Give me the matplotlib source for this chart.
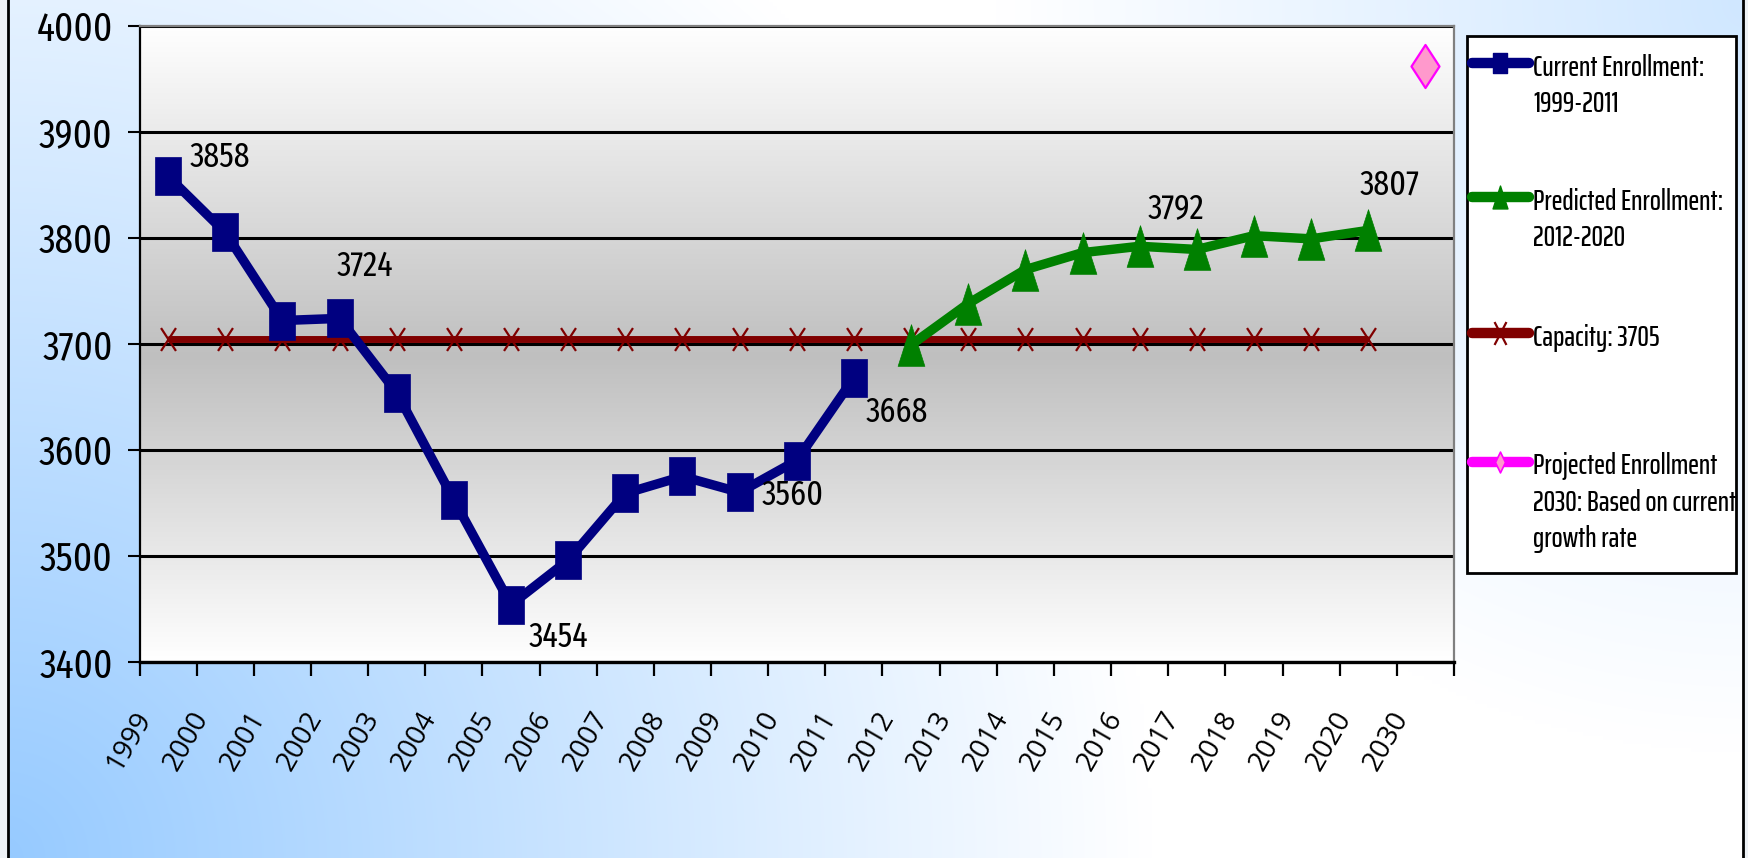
import numpy as np
import matplotlib
matplotlib.use("Agg")
import matplotlib.pyplot as plt
from matplotlib.path import Path
from matplotlib.lines import Line2D
from matplotlib.patches import Rectangle
from matplotlib.transforms import ScaledTranslation
from matplotlib.font_manager import FontProperties

# ---------------- data ----------------
years = ["1999", "2000", "2001", "2002", "2003", "2004", "2005", "2006", "2007",
         "2008", "2009", "2010", "2011", "2012", "2013", "2014", "2015", "2016",
         "2017", "2018", "2019", "2020", "2030"]

current_years = years[0:13]
current_values = [3858, 3805, 3722, 3724, 3654, 3553, 3454, 3496, 3559, 3575, 3560, 3590, 3668]

predicted_years = years[13:22]
predicted_values = [3699, 3738, 3770, 3786, 3792, 3789, 3802, 3799, 3807]

capacity_years = years[0:22]
capacity_value = 3705

projected_years = ["2030"]
projected_values = [3962]

legend_labels = ["Current Enrollment:\n1999-2011",
                 "Predicted Enrollment:\n2012-2020",
                 "Capacity: 3705",
                 "Projected Enrollment\n2030: Based on current\ngrowth rate"]

y_ticks = [3400, 3500, 3600, 3700, 3800, 3900, 4000]

# data labels: (series, year)
current_labeled = ["1999", "2002", "2005", "2009", "2011"]
predicted_labeled = ["2016", "2020"]

# ---------------- styling ----------------
W, H, DPI = 1749, 858, 100
NUM_FONT = ["Fira Sans Extra Condensed", "DejaVu Sans"]
LEG_FONT = ["Saira ExtraCondensed", "Fira Sans Extra Condensed", "DejaVu Sans"]
XT_FONT = ["Open Sans", "DejaVu Sans"]
NAVY, GREEN, DARKRED = "#000080", "#008000", "#800000"
PINK, MAGENTA = "#FF99CC", "#FF00FF"

def rect_marker(a):
    return Path([(-a, -1), (a, -1), (a, 1), (-a, 1), (-a, -1)],
                [Path.MOVETO, Path.LINETO, Path.LINETO, Path.LINETO, Path.CLOSEPOLY])

def tri_marker(a):
    return Path([(-a, -1), (a, -1), (0, 1), (-a, -1)],
                [Path.MOVETO, Path.LINETO, Path.LINETO, Path.CLOSEPOLY])

def cross_marker(a):
    return Path([(-a, -1), (a, 1), (-a, 1), (a, -1)],
                [Path.MOVETO, Path.LINETO, Path.MOVETO, Path.LINETO])

def diamond_marker(a):
    return Path([(0, -1), (a, 0), (0, 1), (-a, 0), (0, -1)],
                [Path.MOVETO, Path.LINETO, Path.LINETO, Path.LINETO, Path.CLOSEPOLY])

SQ = rect_marker(0.667)
TRI = tri_marker(0.643)
CROSS = cross_marker(0.652)
DIA = diamond_marker(0.651)

fig = plt.figure(figsize=(W / DPI, H / DPI), dpi=DPI)

# figure background gradient
bg = fig.add_axes([0, 0, 1, 1], zorder=-10)
gy, gx = np.mgrid[0:H:4, 0:W:4].astype(float)
d1 = np.hypot(gx - 0, gy - H)
d2 = np.hypot(gx - W, gy - 0)
w = np.clip(1 - d1 / 1150.0, 0, 1) * 1.0 + np.clip(1 - d2 / 750.0, 0, 1) * 0.45
w = np.clip(w, 0, 1)
blue = np.array([150, 202, 255]) / 255.0
white = np.array([1.0, 1.0, 1.0])
img = white[None, None, :] * (1 - w[..., None]) + blue[None, None, :] * w[..., None]
bg.imshow(img, extent=(0, 1, 0, 1), aspect="auto", interpolation="bilinear")
bg.set_xlim(0, 1)
bg.set_ylim(0, 1)
bg.axis("off")
bg.add_patch(Rectangle((0, 0), 7 / W, 1, color="#EEF2F6", transform=bg.transAxes, zorder=2))
bg.add_patch(Rectangle((1744 / W, 0), 5 / W, 1, color="#EEF2F6", transform=bg.transAxes, zorder=2))
bg.add_line(Line2D([8 / W, 8 / W], [0, 1], color="black", lw=2.0, transform=bg.transAxes, zorder=3))
bg.add_line(Line2D([1743 / W, 1743 / W], [0, 1], color="black", lw=2.0, transform=bg.transAxes, zorder=3))

# main axes
ax_l, ax_r, ax_t, ax_b = 139.5, 1454.0, 25.7, 662.0
ax = fig.add_axes([ax_l / W, 1 - ax_b / H, (ax_r - ax_l) / W, (ax_b - ax_t) / H])
ax.patch.set_alpha(0)

# plot-area vertical gradient (white -> gray -> white)
t = np.linspace(0, 1, 300)
c = 0.48
g = np.where(t < c, 1 - (t / c) * (1 - 0.75), 0.75 + ((t - c) / (1 - c)) * (1 - 0.75))
pimg = np.repeat(g[:, None], 4, axis=1)
ax.imshow(np.dstack([pimg] * 3), extent=(0, 1, 0, 1), transform=ax.transAxes,
          aspect="auto", origin="lower", interpolation="bilinear", zorder=-2)

xpos = {y: i for i, y in enumerate(years)}

# capacity
cap_x = [xpos[y] for y in capacity_years]
ax.plot(cap_x, [capacity_value] * len(cap_x), color=DARKRED, lw=5, marker=CROSS,
        ms=16.5, mew=1.6, mec=DARKRED, mfc="none", zorder=3, solid_capstyle="butt")

# current enrollment
cur_x = [xpos[y] for y in current_years]
ax.plot(cur_x, current_values, color=NAVY, lw=6.8, marker=SQ, ms=28, mfc=NAVY,
        mec=NAVY, mew=0.5, zorder=4, solid_joinstyle="round")

# predicted enrollment
pre_x = [xpos[y] for y in predicted_years]
ax.plot(pre_x, predicted_values, color=GREEN, lw=6.8, marker=TRI, ms=30, mfc=GREEN,
        mec=GREEN, mew=0.5, zorder=4, solid_joinstyle="round")

# projected 2030
pro_x = [xpos[y] for y in projected_years]
ax.plot(pro_x, projected_values, linestyle="none", marker=DIA, ms=31, mfc=PINK,
        mec=MAGENTA, mew=1.6, zorder=5)

# data labels
lbl_off = {"1999": (37, 13.5), "2002": (18.4, 37.7), "2005": (34.2, -23.3),
           "2009": (38.4, -1.9), "2011": (31, -24.4), "2016": (26.2, 27.4),
           "2020": (15.5, 32.7)}
for yr in current_labeled:
    v = current_values[current_years.index(yr)]
    ax.annotate(str(v), (xpos[yr], v), xytext=lbl_off[yr], textcoords="offset points",
                ha="center", va="center", fontsize=25, family=NUM_FONT, color="black", zorder=6)
for yr in predicted_labeled:
    v = predicted_values[predicted_years.index(yr)]
    ax.annotate(str(v), (xpos[yr], v), xytext=lbl_off[yr], textcoords="offset points",
                ha="center", va="center", fontsize=25, family=NUM_FONT, color="black", zorder=6)

# axes limits, ticks, grid
ax.set_xlim(-0.5, len(years) - 0.5)
ax.set_ylim(y_ticks[0], y_ticks[-1])
ax.set_yticks(y_ticks)
ax.set_yticklabels([str(v) for v in y_ticks], family=NUM_FONT, fontsize=29)
ax.tick_params(axis="y", direction="out", length=8.3, width=1.5, pad=11, colors="black")

ax.set_xticks(range(len(years)))
ax.set_xticklabels(years, rotation=60, ha="right", va="top", family=XT_FONT, fontsize=20)
ax.set_xticks(np.arange(-0.5, len(years), 1.0), minor=True)
ax.tick_params(axis="x", which="major", length=0, pad=32)
ax.tick_params(axis="x", which="minor", direction="out", length=10, width=1.6, colors="black")
shift = ScaledTranslation(-11 / DPI, 0, fig.dpi_scale_trans)
for lab in ax.get_xticklabels():
    lab.set_transform(lab.get_transform() + shift)

ax.set_axisbelow(True)
ax.yaxis.grid(True, color="black", lw=2.2)
ax.xaxis.grid(False)

for side in ("left", "bottom"):
    ax.spines[side].set_color("black")
ax.spines["left"].set_linewidth(1.6)
ax.spines["bottom"].set_linewidth(2.4)
for side in ("top", "right"):
    ax.spines[side].set_color("#808080")
    ax.spines[side].set_linewidth(1.6)

# legend (manual, Excel-like layout)
def fx(px):
    return px / W

def fy(py):
    return 1 - py / H

fig.add_artist(Rectangle((fx(1466.7), fy(573)), (1735.7 - 1466.7) / W, (573 - 36.4) / H,
                         transform=fig.transFigure, facecolor="white", edgecolor="black",
                         lw=2.0, zorder=5))
leg_y = [63.1, 197.1, 333.0, 461.9]
leg_style = [
    dict(color=NAVY, marker=SQ, ms=14.4, mfc=NAVY, mec=NAVY),
    dict(color=GREEN, marker=tri_marker(0.65), ms=16.5, mfc=GREEN, mec=GREEN),
    dict(color=DARKRED, marker=cross_marker(0.52), ms=16.5, mfc="none", mec=DARKRED, mew=1.6),
    dict(color=MAGENTA, marker=diamond_marker(0.48), ms=15, mfc=PINK, mec=MAGENTA, mew=1.2),
]
LEG_SIZE = 21
LEG_WEIGHT = 500
LINE_PX = 36.5
renderer = fig.canvas.get_renderer()
_, lp_h, lp_d = renderer.get_text_width_height_descent(
    "lp", FontProperties(family=LEG_FONT, size=LEG_SIZE, weight=LEG_WEIGHT), ismath=False)
leg_linespacing = (LINE_PX - lp_d) / (lp_h - lp_d)
for yy, lab, st in zip(leg_y, legend_labels, leg_style):
    fig.add_artist(Line2D([fx(1472), fx(1529)], [fy(yy), fy(yy)], transform=fig.transFigure,
                          color=st["color"], lw=7.5, solid_capstyle="round", zorder=6))
    mk = {k: v for k, v in st.items() if k != "color"}
    fig.add_artist(Line2D([fx(1500)], [fy(yy)], transform=fig.transFigure, linestyle="none",
                          zorder=7, **mk))
    nlines = lab.count("\n") + 1
    fig.text(fx(1533), fy(yy + 12.5 + (nlines - 1) * LINE_PX), lab, ha="left", va="baseline",
             fontsize=LEG_SIZE, family=LEG_FONT, weight=LEG_WEIGHT,
             linespacing=leg_linespacing, color="black", zorder=8)

fig.savefig("out.png", dpi=DPI)
